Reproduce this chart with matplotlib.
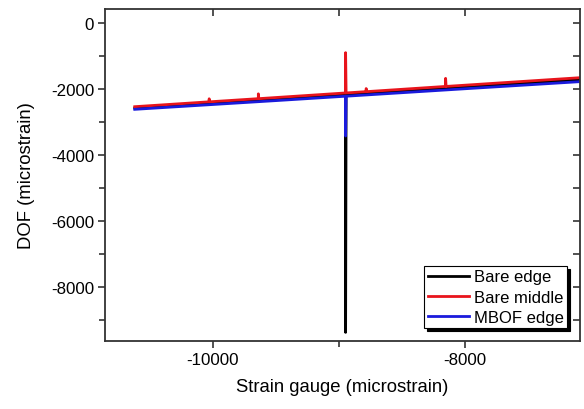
import matplotlib.pyplot as plt
from matplotlib.ticker import MultipleLocator

plt.rcParams['font.family'] = ['Liberation Sans', 'DejaVu Sans']
plt.rcParams['axes.unicode_minus'] = False

# Bare edge (black)
edge_x = [-10620, -9500, -8952, -8948, -8948, -8944, -8000, -7090]
edge_y = [-2580, -2310, -2175, -2173, -9390, -2173, -1940, -1720]

# Bare middle (red)
mid_x = [-10620, -10034, -10030, -10030, -10026, -9644, -9640, -9640, -9636,
         -8952, -8948, -8948, -8944, -8789, -8785, -8785, -8781,
         -8159, -8155, -8155, -8151, -7090]
mid_y = [-2540, -2393, -2392, -2300, -2392, -2297, -2296, -2150, -2296,
         -2124, -2123, -900, -2123, -2084, -2083, -1990, -2083,
         -1926, -1925, -1680, -1925, -1660]

# MBOF edge (blue)
mbof_x = [-10620, -9500, -8952, -8948, -8948, -8944, -8000, -7090]
mbof_y = [-2620, -2355, -2223, -2222, -3430, -2222, -1995, -1780]

fig = plt.figure(figsize=(5.84, 4.10), dpi=100)
ax = fig.add_axes([0.180, 0.166, 0.813, 0.810])

ax.plot(edge_x, edge_y, color='black', lw=2, label='Bare edge')
ax.plot(mid_x, mid_y, color='#e8141c', lw=2, label='Bare middle')
ax.plot(mbof_x, mbof_y, color='#1a1adc', lw=2, label='MBOF edge')

ax.set_xlim(-10855, -7090)
ax.set_ylim(-9650, 430)
ax.xaxis.set_major_locator(MultipleLocator(2000))
ax.xaxis.set_minor_locator(MultipleLocator(1000))
ax.yaxis.set_major_locator(MultipleLocator(2000))
ax.yaxis.set_minor_locator(MultipleLocator(1000))

ax.tick_params(which='both', direction='out', labelsize=12.2, width=1.2, color='#333333', pad=3)
ax.tick_params(which='major', length=5)
ax.tick_params(which='minor', length=4)
# mirrored ticks on top/right pointing inward
secx = ax.secondary_xaxis('top')
secx.xaxis.set_major_locator(MultipleLocator(2000))
secx.xaxis.set_minor_locator(MultipleLocator(1000))
secx.tick_params(which='both', direction='in', labeltop=False, length=5, width=1.2, color='#333333')
secy = ax.secondary_yaxis('right')
secy.yaxis.set_major_locator(MultipleLocator(1000))
secy.tick_params(which='both', direction='in', labelright=False, length=5, width=1.2, color='#333333')

for s in ax.spines.values():
    s.set_linewidth(1.3)
    s.set_color('#333333')
secx.spines['top'].set_visible(False)
secy.spines['right'].set_visible(False)

ax.set_xlabel('Strain gauge (microstrain)', fontsize=13.3, labelpad=8)
ax.set_ylabel('DOF (microstrain)', fontsize=13.3, labelpad=11)

leg = ax.legend(loc='lower right', fontsize=12, handlelength=2.5, labelspacing=0.32,
                borderpad=0.2, handletextpad=0.3, borderaxespad=0.75,
                fancybox=False, shadow={'color': 'black', 'alpha': 1})
leg.get_frame().set_edgecolor('black')
leg.get_frame().set_linewidth(0.8)

plt.savefig('out.png', dpi=100)
